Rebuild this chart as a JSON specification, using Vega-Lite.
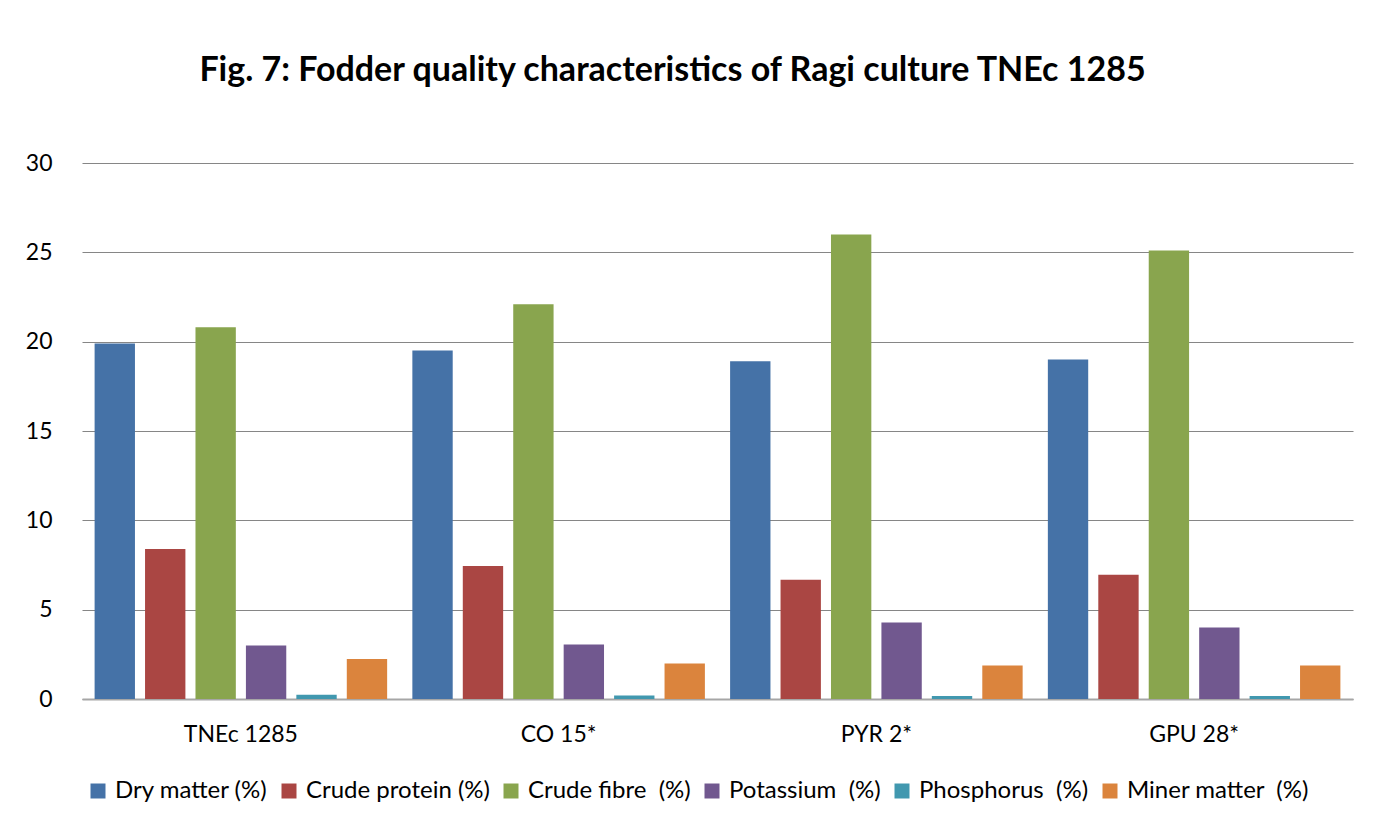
{
  "$schema": "https://vega.github.io/schema/vega-lite/v6.json",
  "width": 1271,
  "height": 536,
  "autosize": {"type": "none"},
  "padding": {"left": 82, "top": 163, "right": 34, "bottom": 128},
  "background": "white",
  "title": {
    "text": "Fig. 7: Fodder quality characteristics of Ragi culture TNEc 1285",
    "font": "Lato",
    "fontSize": 34,
    "fontWeight": "bold",
    "color": "black",
    "anchor": "middle",
    "dx": -45,
    "offset": 64
  },
  "data": {
    "values": [
      {"variety": "TNEc 1285", "trait": "Dry matter (%)", "value": 19.9},
      {"variety": "TNEc 1285", "trait": "Crude protein (%)", "value": 8.4},
      {"variety": "TNEc 1285", "trait": "Crude fibre \u00a0(%)", "value": 20.8},
      {"variety": "TNEc 1285", "trait": "Potassium \u00a0(%)", "value": 3.0},
      {"variety": "TNEc 1285", "trait": "Phosphorus \u00a0(%)", "value": 0.24},
      {"variety": "TNEc 1285", "trait": "Miner matter \u00a0(%)", "value": 2.24},
      {"variety": "CO 15*", "trait": "Dry matter (%)", "value": 19.5},
      {"variety": "CO 15*", "trait": "Crude protein (%)", "value": 7.45},
      {"variety": "CO 15*", "trait": "Crude fibre \u00a0(%)", "value": 22.1},
      {"variety": "CO 15*", "trait": "Potassium \u00a0(%)", "value": 3.05},
      {"variety": "CO 15*", "trait": "Phosphorus \u00a0(%)", "value": 0.2},
      {"variety": "CO 15*", "trait": "Miner matter \u00a0(%)", "value": 1.98},
      {"variety": "PYR 2*", "trait": "Dry matter (%)", "value": 18.9},
      {"variety": "PYR 2*", "trait": "Crude protein (%)", "value": 6.68},
      {"variety": "PYR 2*", "trait": "Crude fibre \u00a0(%)", "value": 26.0},
      {"variety": "PYR 2*", "trait": "Potassium \u00a0(%)", "value": 4.28},
      {"variety": "PYR 2*", "trait": "Phosphorus \u00a0(%)", "value": 0.17},
      {"variety": "PYR 2*", "trait": "Miner matter \u00a0(%)", "value": 1.87},
      {"variety": "GPU 28*", "trait": "Dry matter (%)", "value": 19.0},
      {"variety": "GPU 28*", "trait": "Crude protein (%)", "value": 6.96},
      {"variety": "GPU 28*", "trait": "Crude fibre \u00a0(%)", "value": 25.1},
      {"variety": "GPU 28*", "trait": "Potassium \u00a0(%)", "value": 4.0},
      {"variety": "GPU 28*", "trait": "Phosphorus \u00a0(%)", "value": 0.17},
      {"variety": "GPU 28*", "trait": "Miner matter \u00a0(%)", "value": 1.87}
    ]
  },
  "mark": {"type": "bar"},
  "encoding": {
    "x": {
      "field": "variety",
      "type": "nominal",
      "sort": null,
      "scale": {"paddingInner": 0, "paddingOuter": 0},
      "axis": {
        "title": null,
        "labelAngle": 0,
        "labelFont": "Lato",
        "labelFontSize": 23,
        "labelColor": "black",
        "labelPadding": 24,
        "ticks": false,
        "domainColor": "#a6a6a6",
        "domainWidth": 2
      }
    },
    "xOffset": {
      "field": "trait",
      "type": "nominal",
      "sort": null,
      "scale": {"paddingInner": 0.2, "paddingOuter": 0.25}
    },
    "y": {
      "field": "value",
      "type": "quantitative",
      "scale": {"domain": [0, 30]},
      "axis": {
        "title": null,
        "values": [0, 5, 10, 15, 20, 25, 30],
        "labelFont": "Lato",
        "labelFontSize": 23,
        "labelColor": "black",
        "labelPadding": 30,
        "ticks": false,
        "domain": false,
        "gridColor": "#868686",
        "gridWidth": 1.2
      }
    },
    "color": {
      "field": "trait",
      "type": "nominal",
      "sort": null,
      "scale": {
        "domain": ["Dry matter (%)", "Crude protein (%)", "Crude fibre \u00a0(%)", "Potassium \u00a0(%)", "Phosphorus \u00a0(%)", "Miner matter \u00a0(%)"],
        "range": ["#4572A7", "#AA4643", "#89A54E", "#71588F", "#4198AF", "#DB843D"]
      },
      "legend": {
        "title": null,
        "orient": "none",
        "legendX": 4,
        "legendY": 616,
        "direction": "horizontal",
        "padding": 0,
        "symbolType": "square",
        "symbolSize": 225,
        "symbolStrokeWidth": 0,
        "labelFont": "Lato",
        "labelFontSize": 24,
        "labelColor": "black",
        "labelOffset": 5,
        "columnPadding": 9,
        "labelLimit": 400
      }
    }
  },
  "config": {
    "view": {"stroke": null}
  }
}
